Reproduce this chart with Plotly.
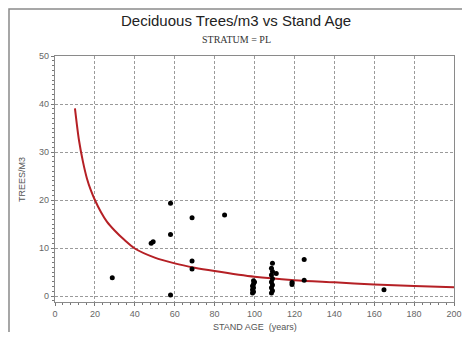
import plotly.graph_objects as go

# Observed data (stand age in years, deciduous trees per m3)
ages = [28.7, 48.2, 49.2, 57.9, 57.9, 57.9, 68.7, 68.7, 68.7, 85.0,
        99.0, 99.5, 99.0, 99.5, 99.0, 99.5, 100.0, 99.5,
        108.5, 109.0, 108.5, 109.0, 108.5, 109.0, 108.5, 109.0, 110.9, 108.5, 109.0,
        118.8, 118.8, 124.9, 124.9, 164.9]
trees = [3.8, 11.0, 11.3, 19.3, 12.8, 0.2, 16.3, 7.3, 5.6, 16.9,
         0.6, 0.9, 1.3, 1.7, 2.1, 2.5, 2.9, 3.2,
         0.6, 1.1, 1.7, 2.3, 2.9, 3.6, 4.4, 5.1, 4.7, 5.8, 6.8,
         2.4, 2.8, 7.6, 3.3, 1.3]

# Fitted curve
curve_age = [10, 12, 14, 16, 18, 20, 23, 26, 30, 35, 40, 50, 60, 70, 80, 100, 120, 140, 160, 180, 200]
curve_val = [39.1, 32.5, 28.0, 24.5, 22.0, 20.0, 17.5, 15.5, 13.6, 11.6, 9.9, 8.0, 6.8, 5.9, 5.2, 4.0, 3.3, 2.85, 2.4, 2.1, 1.8]

x_ticks = [0, 20, 40, 60, 80, 100, 120, 140, 160, 180, 200]
y_ticks = [0, 10, 20, 30, 40, 50]

title_text = "Deciduous Trees/m3 vs Stand Age"
subtitle_text = "STRATUM = PL"
x_title = "STAND AGE  (years)"
y_title = "TREES/M3"

fig = go.Figure()
fig.add_trace(go.Scatter(
    x=curve_age, y=curve_val, mode="lines",
    line=dict(color="#b52025", width=2, shape="spline", smoothing=0.8),
    hoverinfo="skip", showlegend=False))
fig.add_trace(go.Scatter(
    x=ages, y=trees, mode="markers",
    marker=dict(color="black", size=5),
    showlegend=False))

grid = dict(showgrid=True, gridcolor="#9a9a9a", gridwidth=1, griddash="3px,2px",
            zeroline=False, showline=True, linecolor="#8a8a8a", linewidth=1.2,
            mirror=True, ticks="outside", ticklen=3, tickcolor="#777",
            automargin=False,
            tickfont=dict(family="Liberation Sans, Arial", size=9, color="#666"))

fig.update_xaxes(range=[0, 200], tickvals=x_ticks, ticktext=[str(v) for v in x_ticks],
                 minor=dict(dtick=4, ticks="outside", ticklen=2, tickcolor="#777", showgrid=False),
                 **grid)
fig.update_yaxes(range=[-1.25, 50], tickvals=y_ticks, ticktext=[str(v) for v in y_ticks],
                 minor=dict(dtick=1, ticks="outside", ticklen=2, tickcolor="#777", showgrid=False),
                 **grid)

# The page body has an 8px default margin; size the figure to fit inside the window.
fig.update_layout(
    width=454, height=324,
    margin=dict(l=47, r=8, t=48, b=30, autoexpand=False),
    paper_bgcolor="white", plot_bgcolor="white",
    annotations=[
        dict(text=title_text, xref="paper", yref="paper", x=0.454, y=1.146,
             xanchor="center", yanchor="middle", showarrow=False,
             font=dict(family="Liberation Sans, Arial", size=15, color="#222")),
        dict(text=subtitle_text, xref="paper", yref="paper", x=0.454, y=1.069,
             xanchor="center", yanchor="middle", showarrow=False,
             font=dict(family="Liberation Serif, Times New Roman", size=10, color="#333")),
        dict(text=x_title, xref="paper", yref="paper", x=0.5, y=-0.1,
             xanchor="center", yanchor="middle", showarrow=False,
             font=dict(family="Liberation Sans, Arial", size=9, color="#555")),
        dict(text=y_title, xref="paper", yref="paper", x=-0.083, y=0.5,
             xanchor="center", yanchor="middle", showarrow=False, textangle=-90,
             font=dict(family="Liberation Sans, Arial", size=9, color="#555")),
    ],
    shapes=[
        dict(type="rect", xref="paper", yref="paper",
             x0=-0.1153, x1=1.06, y0=-0.2, y1=1.191,
             line=dict(color="#8a8a8a", width=1.5), fillcolor="rgba(0,0,0,0)",
             layer="below"),
    ],
)

fig.write_html("out.html")
